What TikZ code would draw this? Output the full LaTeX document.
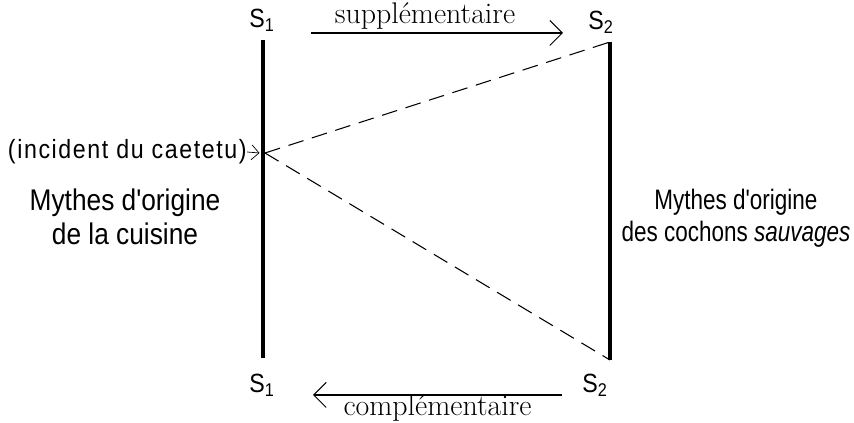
\documentclass[tikz,border=0pt]{standalone}
\usepackage{fontspec}
\newfontfamily\mythfont[FakeStretch=0.88]{Liberation Sans}
\newfontfamily\narrowfont[FakeStretch=0.8]{Liberation Sans}
\newfontfamily\incfont[FakeStretch=0.88,LetterSpace=6]{Liberation Sans}
\usetikzlibrary{arrows.meta,positioning}

\begin{document}
\begin{tikzpicture}[
    axis/.style={line width=2.2pt},
    arrow/.style={-{Straight Barb[length=2.5mm]}, semithick},
    tag/.style={font=\mythfont\fontsize{15}{15}\selectfont},
    rel/.style={font=\fontsize{17}{17}\selectfont},
    myth/.style={font=\mythfont\fontsize{17}{19}\selectfont, align=center}
]
\useasboundingbox (0,0) rectangle (17.08,8.46);

% The two series of myths
\coordinate (ltop) at (5.26,7.66);
\coordinate (lbot) at (5.26,1.30);
\coordinate (rtop) at (12.2,7.62);
\coordinate (rbot) at (12.2,1.26);
\coordinate (apex) at (5.30,5.40);
\draw[axis] (ltop) -- (lbot);
\draw[axis] (rtop) -- (rbot);

% Dashed links from the caetetu incident
\draw[dash pattern=on 9pt off 5pt, semithick] (apex) -- (rtop);
\draw[dash pattern=on 9pt off 5pt, semithick] (apex) -- (rbot);

% Terminal labels
\node[tag] (s1top) at (5.24,8.06) {S\textsubscript{1}};
\node[tag] (s2top) at (12.02,8.02) {S\textsubscript{2}};
\node[tag] (s1bot) at (5.24,0.76) {S\textsubscript{1}};
\node[tag] (s2bot) at (11.9,0.76) {S\textsubscript{2}};

% Relations
\coordinate (supA) at (6.22,7.8);
\coordinate (supB) at (11.26,7.8);
\draw[arrow] (supA) -- (supB);
\node[rel] (sup) at (8.5,8.14) {supplémentaire};

\coordinate (comA) at (11.24,0.56);
\coordinate (comB) at (6.26,0.56);
\draw[arrow] (comA) -- (comB);
\node[rel] (com) at (8.75,0.3) {complémentaire};

% Incident
\node[font=\incfont\fontsize{15}{15}\selectfont, anchor=east, inner sep=0pt] (incident) at (4.94,5.42) {(incident du caetetu)};
\coordinate (hit) at (5.19,5.40);
\draw[-{Straight Barb[length=1.5mm]}, thin] (incident.east) -- (hit);

% Names of the series
\node[myth] (cuisine) at (2.5,4.12) {Mythes d'origine\\de la cuisine};
\node[myth, font=\narrowfont\fontsize{16}{18}\selectfont] (cochons) at (14.72,4.1) {Mythes d'origine\\des cochons \textit{sauvages}};

\end{tikzpicture}
\end{document}
